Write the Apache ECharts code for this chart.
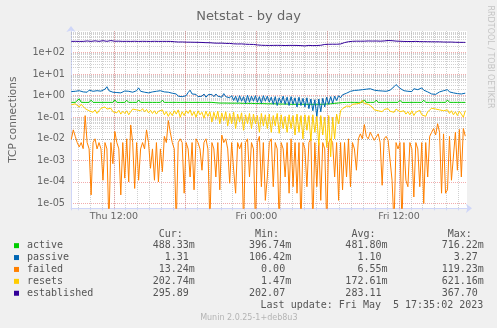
<!DOCTYPE html>
<html>
<head>
<meta charset="utf-8">
<script src="https://cdn.jsdelivr.net/npm/echarts@6/dist/echarts.min.js"></script>
<style>
html,body{margin:0;padding:0;background:#F0F0F0;}
#chart{width:497px;height:328px;}
</style>
</head>
<body>
<div id="chart"></div>
<script>
// Series names and Munin palette colours
const seriesNames = ['active', 'passive', 'failed', 'resets', 'established'];
const seriesColors = ['#00CC00', '#0066B3', '#FF8000', '#FFCC00', '#330099'];

// Samples every 10 minutes, time in hours after Thu 00:00
const firstSample = 8 + 25 / 60;
const sampleStep = 1 / 6;
const xMin = 8 + 23.5 / 60;
const xMax = 41 + 43.5 / 60;
const yMin = 5.99e-6;
const yMax = 1000;

const active = [
  0.49,0.488,0.492,0.49,0.716,0.495,0.49,0.488,0.49,0.491,
  0.62,0.49,0.489,0.49,0.492,0.49,0.60,0.49,0.488,0.49,
  0.49,0.491,0.64,0.49,0.49,0.487,0.49,0.49,0.61,0.49,
  0.488,0.49,0.491,0.49,0.63,0.49,0.49,0.488,0.49,0.49,
  0.60,0.49,0.49,0.489,0.49,0.49,0.62,0.49,0.488,0.49,
  0.49,0.49,0.60,0.49,0.49,0.488,0.49,0.49,0.59,0.49,
  0.49,0.488,0.49,0.49,0.60,0.49,0.488,0.49,0.49,0.49,
  0.58,0.49,0.49,0.47,0.46,0.455,0.53,0.455,0.45,0.452,
  0.45,0.45,0.52,0.45,0.448,0.45,0.44,0.44,0.50,0.44,
  0.435,0.44,0.43,0.43,0.49,0.43,0.425,0.43,0.42,0.42,
  0.48,0.42,0.415,0.42,0.41,0.41,0.47,0.41,0.405,0.41,
  0.40,0.40,0.46,0.40,0.397,0.40,0.40,0.40,0.46,0.40,
  0.40,0.40,0.398,0.40,0.46,0.40,0.40,0.40,0.40,0.41,
  0.47,0.42,0.43,0.44,0.45,0.46,0.52,0.48,0.49,0.49,
  0.49,0.49,0.58,0.49,0.49,0.49,0.488,0.49,0.64,0.49,
  0.49,0.49,0.49,0.49,0.62,0.49,0.49,0.488,0.49,0.49,
  0.58,0.49,0.49,0.49,0.49,0.49,0.61,0.49,0.49,0.488,
  0.49,0.49,0.60,0.49,0.49,0.49,0.49,0.488,0.62,0.49,
  0.49,0.49,0.49,0.49,0.58,0.49,0.488,0.49,0.49,0.49,
  0.63,0.49,0.49,0.49,0.49,0.49,0.60,0.49,0.488,0.48833
];

const passive = [
  1.55,1.42,1.6,1.38,1.7,1.9,1.5,1.65,1.45,1.8,
  2.1,1.6,1.45,1.7,1.5,1.62,1.4,2.0,2.6,1.7,
  1.55,1.45,1.6,1.4,1.55,1.35,1.5,1.65,1.8,1.6,
  1.5,1.45,1.5,1.7,2.3,1.6,1.3,1.45,1.25,1.35,
  1.3,1.5,1.4,1.6,1.45,1.7,1.55,1.5,1.65,1.45,
  1.6,1.3,1.1,1.2,0.95,1.05,0.9,1.1,1.0,1.4,
  1.8,1.2,1.0,1.15,0.9,1.1,0.95,1.2,0.85,1.1,
  0.9,1.15,0.9,1.2,0.95,1.1,0.85,1.25,0.9,1.0,
  0.8,1.0,0.6,0.95,0.5,1.0,0.55,0.9,0.45,1.05,
  0.5,0.95,0.55,1.0,0.5,0.9,0.45,1.0,0.55,0.95,
  0.5,0.85,0.4,0.9,0.35,0.8,0.45,0.95,0.4,0.85,
  0.35,0.9,0.4,0.8,0.3,0.85,0.35,0.75,0.3,0.8,
  0.25,0.7,0.2,0.65,0.106,0.7,0.18,0.75,0.3,0.85,
  0.4,0.9,0.45,0.95,0.6,1.0,0.8,1.1,1.2,1.3,
  1.45,1.6,1.5,1.75,1.6,1.8,1.55,1.9,1.7,2.0,
  2.3,2.1,1.7,1.8,1.55,1.7,1.5,1.65,1.45,1.6,
  1.5,1.8,2.1,2.6,3.27,2.7,2.2,1.9,1.7,2.0,
  1.6,1.8,1.55,2.1,1.7,1.9,1.6,2.3,1.8,1.65,
  1.5,1.4,1.2,1.35,1.15,1.3,1.5,1.4,1.7,1.45,
  1.9,1.5,1.6,1.35,1.5,1.25,1.45,1.2,1.4,1.31
];

const failed = [
  0.0095,0.026,0.013,0.0067,0.0042,0.0067,0.0035,0.119,0.0067,0.0034,
  2.5e-5,0.0067,0.01,0.0034,0.0067,0.0034,1.2e-4,0.0067,0.0034,1e-6,
  0.0067,7e-4,0.022,0.0067,0.0034,2.5e-5,0.0067,1.5e-4,0.01,1e-4,
  0.044,0.0067,5e-5,0.0067,1.2e-4,0.0034,0.0067,0.0034,0.026,0.0067,
  4.3e-4,0.0034,1.2e-4,0.0067,1e-4,0.0034,3e-4,0.013,0.0067,0.07,
  0.02,0.0067,0.0034,1e-6,0.0067,0.01,0.0067,3e-5,0.0067,0.0034,
  1.7e-4,0.0067,4.3e-5,0.01,0.0067,0.0034,3.5e-4,0.0067,0.01,0.0034,
  1e-6,0.0067,0.0034,1.7e-4,0.0067,4.3e-5,0.015,0.0067,0.01,0.0034,
  8.7e-5,0.0067,3.5e-4,3e-5,0.0067,0.0034,0.0067,1e-6,0.0067,0.01,
  1.7e-4,0.0067,0.0034,1e-6,0.0067,0.013,6e-5,0.0067,1.4e-5,1.7e-4,
  0.0067,0.01,6e-5,0.0067,0.0034,1e-6,0.0067,0.0034,1.7e-4,0.0067,
  3e-5,0.01,6e-5,0.0067,3e-5,0.0067,1e-6,0.0067,0.0034,6e-5,
  0.0067,0.01,1e-6,0.0067,6e-5,0.0067,1.4e-5,0.0067,0.0034,1e-6,
  0.0067,0.01,0.0067,1.7e-4,0.0067,1.4e-5,0.0067,4.3e-5,0.0067,1.7e-4,
  0.01,6e-5,0.0067,0.0034,3.5e-4,0.01,0.017,0.01,0.046,0.013,
  0.01,0.02,0.013,0.0085,0.01,0.017,0.0067,7e-5,0.01,0.013,
  0.0085,0.01,1.2e-4,1e-6,0.0067,0.0034,0.0067,1e-6,0.0067,1.2e-4,
  6e-5,0.0067,0.0034,2e-5,0.0067,0.0034,6e-5,0.0067,1e-5,0.0067,
  1.7e-4,0.013,0.02,0.03,0.015,0.05,0.02,3e-5,0.017,3e-5,
  4.3e-5,0.013,1.2e-4,1e-4,0.02,3.5e-4,0.027,1.7e-4,0.03,0.01324
];

const resets = [
  0.38,0.34,0.42,0.36,0.3,0.4,0.33,0.25,0.3,0.2,
  0.24,0.17,0.22,0.15,0.2,0.26,0.22,0.3,0.24,0.2,
  0.26,0.18,0.22,0.16,0.21,0.14,0.19,0.15,0.2,0.13,
  0.18,0.24,0.28,0.22,0.26,0.2,0.25,0.18,0.23,0.16,
  0.21,0.15,0.2,0.14,0.19,0.16,0.22,0.13,0.18,0.11,
  0.17,0.12,0.2,0.14,0.22,0.1,0.18,0.12,0.2,0.15,
  0.22,0.12,0.18,0.1,0.2,0.13,0.17,0.09,0.19,0.11,
  0.18,0.06,0.17,0.08,0.19,0.05,0.16,0.07,0.18,0.04,
  0.15,0.05,0.17,0.03,0.14,0.06,0.16,0.025,0.13,0.05,
  0.15,0.03,0.14,0.05,0.12,0.02,0.15,0.04,0.13,0.03,
  0.14,0.02,0.12,0.04,0.15,0.018,0.13,0.03,0.11,0.02,
  0.13,0.03,0.12,0.015,0.14,0.02,0.12,0.01,0.13,0.025,
  0.12,0.008,0.13,0.02,0.11,0.005,0.12,0.015,0.1,0.004,
  0.12,0.00147,0.1,0.01,0.14,0.05,0.2,0.25,0.3,0.33,
  0.36,0.32,0.4,0.35,0.42,0.38,0.45,0.62,0.44,0.38,
  0.4,0.36,0.3,0.22,0.26,0.2,0.24,0.18,0.23,0.2,
  0.25,0.19,0.22,0.17,0.24,0.2,0.18,0.15,0.2,0.14,
  0.18,0.13,0.2,0.12,0.17,0.14,0.21,0.13,0.16,0.11,
  0.18,0.22,0.26,0.3,0.24,0.28,0.22,0.26,0.2,0.17,
  0.22,0.15,0.2,0.13,0.18,0.12,0.19,0.14,0.1,0.2027
];

const established = [
  330,328,332,330,329,331,330,333,345,332,
  330,338,350,336,331,340,355,345,332,350,
  360,342,335,352,338,331,330,328,332,330,
  329,331,334,330,328,330,332,329,330,331,
  328,330,333,330,329,331,330,328,330,332,
  329,327,318,312,308,306,310,305,304,308,
  303,302,300,305,298,296,294,292,288,284,
  286,280,276,278,272,270,274,268,266,262,
  265,258,254,256,250,248,252,246,244,242,
  240,242,238,232,226,222,218,216,215,217,
  214,216,215,213,216,218,215,214,212,216,
  215,213,215,217,214,212,210,214,204,213,
  215,212,210,208,212,214,218,214,238,240,
  242,240,244,241,243,246,250,268,290,305,
  318,326,332,336,338,340,336,342,338,340,
  345,338,341,339,344,340,337,342,346,352,
  362,368,356,345,340,338,335,330,328,332,
  326,328,324,327,330,325,322,326,320,322,
  318,320,316,318,315,312,314,310,308,311,
  306,304,307,302,300,303,298,300,297,296
];

// Legend statistics
const statCur = ['488.33m', '1.31 ', '13.24m', '202.74m', '295.89 '];
const statMin = ['396.74m', '106.42m', '0.00 ', '1.47m', '202.07 '];
const statAvg = ['481.80m', '1.10 ', '6.55m', '172.61m', '283.11 '];
const statMax = ['716.22m', '3.27 ', '119.23m', '621.16m', '367.70 '];
const statHeaders = ['Cur:', 'Min:', 'Avg:', 'Max:'];

// Axis labelling
const timeLabels = { 12: 'Thu 12:00', 24: 'Fri 00:00', 36: 'Fri 12:00' };
const majorHours = [12, 18, 24, 30, 36];
const lastUpdate = 'Last update: Fri May  5 17:35:02 2023';
const versionText = 'Munin 2.0.25-1+deb8u3';
const sideText = 'RRDTOOL / TOBI OETIKER';

const seriesValues = [active, passive, failed, resets, established];

// minor log grid: 2..9 within each decade
const minorLogLines = [];
for (let e = -6; e <= 2; e++) {
  for (let m = 2; m <= 9; m++) {
    const v = m * Math.pow(10, e);
    if (v > yMin && v < yMax) minorLogLines.push(v);
  }
}

const FONT_COLOR = '#666666';
const MONO = '"DejaVu Sans Mono"';
const minorGrid = { color: 'rgba(170,170,170,0.55)', type: [1, 1], width: 1 };
const majorGrid = { color: 'rgba(230,90,90,0.5)', type: [1, 1], width: 1 };

function yLabel(v) {
  const e = Math.log10(v);
  const r = Math.round(e);
  if (Math.abs(e - r) > 1e-6 || r >= 3) return '';
  return '1e' + (r < 0 ? '-' : '+') + String(Math.abs(r)).padStart(2, '0');
}
function xLabel(v) {
  const r = Math.round(v);
  if (Math.abs(v - r) > 1e-6) return '';
  return timeLabels[r] || '';
}

const series = seriesNames.map((name, k) => {
  const s = {
    name: name,
    type: 'line',
    data: seriesValues[k].map((v, i) => [firstSample + i * sampleStep, v]),
    showSymbol: false,
    symbol: 'none',
    clip: true,
    lineStyle: { width: 1, color: seriesColors[k] },
    itemStyle: { color: seriesColors[k] },
    animation: false,
    z: 2
  };
  if (k === 0) {
    s.markLine = {
      silent: true,
      symbol: ['none', 'none'],
      label: { show: false },
      animation: false,
      z: 1,
      lineStyle: majorGrid,
      data: [
        ...minorLogLines.map(v => ({ yAxis: v, lineStyle: minorGrid })),
        ...majorHours.map(h => ({ xAxis: h, lineStyle: majorGrid }))
      ]
    };
  }
  return s;
});

// statistics columns, monospace, 16 characters apart
const colGap = ' '.repeat(9);
const headerLine = statHeaders.map((h, i) => (' ' + h).padEnd(i < 3 ? 16 : 0)).join('');
const statLines = seriesNames.map((n, k) =>
  [statCur[k], statMin[k], statAvg[k], statMax[k]].map(s => s.padStart(7)).join(colGap)
);

const graphic = [
  {
    type: 'text', x: 152.7, y: 234, silent: true,
    style: { text: headerLine, font: '10px ' + MONO, fill: '#555', textVerticalAlign: 'middle' }
  },
  ...statLines.map((line, k) => ({
    type: 'text', x: 152.7, y: 245.7 + 11.9 * k, silent: true,
    style: { text: line, font: '10px ' + MONO, fill: '#555', textVerticalAlign: 'middle' }
  })),
  {
    type: 'text', x: 483.3, y: 305.7, silent: true,
    style: { text: lastUpdate, font: '10px ' + MONO, fill: '#555', textAlign: 'right', textVerticalAlign: 'middle' }
  },
  {
    type: 'text', x: 248.8, y: 317.5, silent: true,
    style: { text: versionText, font: '8px "DejaVu Sans"', fill: '#b4b4b4', textAlign: 'center', textVerticalAlign: 'middle' }
  },
  {
    type: 'text', x: 490, y: 57, rotation: -Math.PI / 2, silent: true,
    style: { text: sideText, font: '8px "DejaVu Sans"', fill: '#c4c4c4', textAlign: 'center', textVerticalAlign: 'middle' }
  }
];

const chart = echarts.init(document.getElementById('chart'), null, { renderer: 'canvas' });
chart.setOption({
  backgroundColor: '#F0F0F0',
  animation: false,
  textStyle: { fontFamily: 'DejaVu Sans' },
  title: {
    text: 'Netstat - by day',
    left: 'center',
    top: 5,
    textStyle: { fontSize: 13, fontWeight: 'normal', color: FONT_COLOR, fontFamily: 'DejaVu Sans' }
  },
  grid: {
    left: 67, top: 31, width: 400, height: 177.3,
    show: true, backgroundColor: '#FFFFFF', borderWidth: 0
  },
  legend: {
    orient: 'vertical',
    left: 14, top: 239.7,
    padding: 0,
    itemWidth: 5, itemHeight: 5, itemGap: 0,
    icon: 'rect',
    selectedMode: false,
    data: seriesNames,
    textStyle: { fontFamily: 'DejaVu Sans Mono', fontSize: 10, color: '#555', lineHeight: 11.9, padding: [0, 0, 0, 3] }
  },
  xAxis: {
    type: 'value',
    min: xMin, max: xMax,
    minInterval: 1, maxInterval: 1, splitNumber: 34,
    axisLine: {
      show: true, onZero: false,
      lineStyle: { color: '#CFD6F8', width: 1 },
      symbol: ['none', 'arrow'], symbolSize: [7, 6], symbolOffset: [0, 5]
    },
    axisTick: { show: true, length: 2, lineStyle: { color: '#CFD6F8' } },
    axisLabel: { formatter: xLabel, color: FONT_COLOR, fontSize: 9.5, margin: 3, fontFamily: 'DejaVu Sans' },
    splitLine: { show: true, showMinLine: false, showMaxLine: false, lineStyle: minorGrid }
  },
  yAxis: {
    type: 'log', logBase: 10,
    min: yMin, max: yMax,
    name: 'TCP connections',
    nameLocation: 'middle', nameRotate: 90, nameGap: 52,
    nameTextStyle: { color: FONT_COLOR, fontSize: 10.5, fontFamily: 'DejaVu Sans' },
    axisLine: {
      show: true,
      lineStyle: { color: '#CFD6F8', width: 1 },
      symbol: ['none', 'arrow'], symbolSize: [7, 6], symbolOffset: [0, 5]
    },
    axisTick: { show: false },
    axisLabel: { formatter: yLabel, color: FONT_COLOR, fontSize: 9.7, margin: 6, fontFamily: 'DejaVu Sans' },
    splitLine: { show: true, showMinLine: false, showMaxLine: false, lineStyle: majorGrid }
  },
  graphic: graphic,
  series: series
});
</script>
</body>
</html>
